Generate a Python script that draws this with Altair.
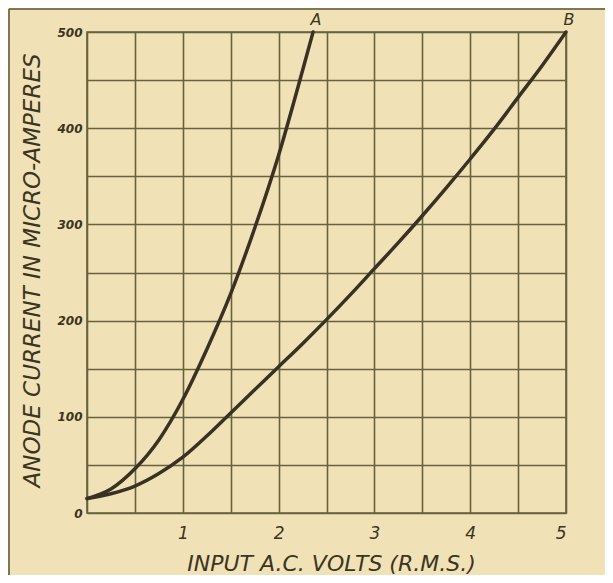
import altair as alt
import pandas as pd

# Curve A
a_volts = [0.0, 0.25, 0.5, 0.75, 1.0, 1.25, 1.5, 1.75, 2.0, 2.25, 2.36]
a_current = [15, 25, 46, 76, 118, 170, 228, 296, 372, 460, 500]

# Curve B
b_volts = [0.0, 0.25, 0.5, 0.75, 1.0, 1.25, 1.5, 1.75, 2.0, 2.25, 2.5,
           2.75, 3.0, 3.25, 3.5, 3.75, 4.0, 4.25, 4.5, 4.75, 5.0]
b_current = [15, 20, 28, 41, 58, 80, 104, 128, 152, 176, 201,
             227, 254, 281, 309, 338, 368, 399, 432, 465, 500]

curve_names = ["A", "B"]
x_grid = [0, 0.5, 1, 1.5, 2, 2.5, 3, 3.5, 4, 4.5, 5]
y_grid = [0, 50, 100, 150, 200, 250, 300, 350, 400, 450, 500]

x_title = "INPUT A.C. VOLTS (R.M.S.)"
y_title = "ANODE CURRENT IN MICRO-AMPERES"

PAPER = "#f0e2b6"
GRID = "#67613d"
INK = "#3a3024"
TEXT = "#3b3422"
FONT = "DejaVu Sans"

df = pd.concat([
    pd.DataFrame({"volts": a_volts, "current": a_current, "curve": curve_names[0]}),
    pd.DataFrame({"volts": b_volts, "current": b_current, "curve": curve_names[1]}),
], ignore_index=True)

ends = pd.DataFrame({
    "volts": [a_volts[-1], b_volts[-1]],
    "current": [a_current[-1], b_current[-1]],
    "curve": curve_names,
})

x_enc = alt.X(
    "volts:Q",
    scale=alt.Scale(domain=[0, 5], nice=False, zero=False),
    axis=alt.Axis(
        values=x_grid,
        labelExpr="datum.value >= 1 && datum.value % 1 == 0 ? format(datum.value, 'd') : ''",
        title=x_title,
        grid=True, gridColor=GRID, gridWidth=1.6, gridOpacity=1,
        domain=False, ticks=False,
        labelFont=FONT, labelFontStyle="italic", labelFontSize=17, labelColor=TEXT,
        labelPadding=12,
        titleFont=FONT, titleFontStyle="italic", titleFontWeight="normal",
        titleFontSize=22, titleColor=TEXT,
        titleBaseline="alphabetic", titleY=57, titleX=244,
    ),
)
y_enc = alt.Y(
    "current:Q",
    scale=alt.Scale(domain=[0, 500], nice=False),
    axis=alt.Axis(
        values=y_grid,
        labelExpr="datum.value % 100 == 0 ? format(datum.value, 'd') : ''",
        title=y_title,
        grid=True, gridColor=GRID, gridWidth=1.6, gridOpacity=1,
        domain=False, ticks=False,
        labelFont=FONT, labelFontStyle="italic", labelFontWeight="bold",
        labelFontSize=12, labelColor=TEXT, labelPadding=5,
        titleFont=FONT, titleFontStyle="italic", titleFontWeight="normal",
        titleFontSize=23, titleColor=TEXT,
        titleAngle=270, titleX=-55, titleY=238,
        titleBaseline="middle", titleAlign="center",
    ),
)

lines = alt.Chart(df).mark_line(
    color=INK, strokeWidth=3.5, interpolate="monotone", strokeCap="round"
).encode(x=x_enc, y=y_enc, detail="curve:N")

labels = alt.Chart(ends).mark_text(
    font=FONT, fontStyle="italic", fontSize=16, color=TEXT, dy=-12, dx=3
).encode(x="volts:Q", y="current:Q", text="curve:N")

frame_left = alt.Chart(pd.DataFrame({"k": [0]})).mark_rule(color="#5a5232", strokeWidth=1.5).encode(
    x=alt.value(-78), y=alt.value(-23), y2=alt.value(545)
)
frame_top = alt.Chart(pd.DataFrame({"k": [0]})).mark_rule(color="#5a5232", strokeWidth=1.5).encode(
    x=alt.value(-78), x2=alt.value(518), y=alt.value(-23)
)

chart = alt.layer(lines, labels, frame_left, frame_top).properties(
    width=479,
    height=481,
    autosize=alt.AutoSizeParams(type="none"),
    padding={"left": 79, "top": 24, "right": 39, "bottom": 62},
    background=PAPER,
).configure_view(stroke=GRID, strokeWidth=1.6)

chart.save("out.html", embed_options={"renderer": "svg", "actions": False})
